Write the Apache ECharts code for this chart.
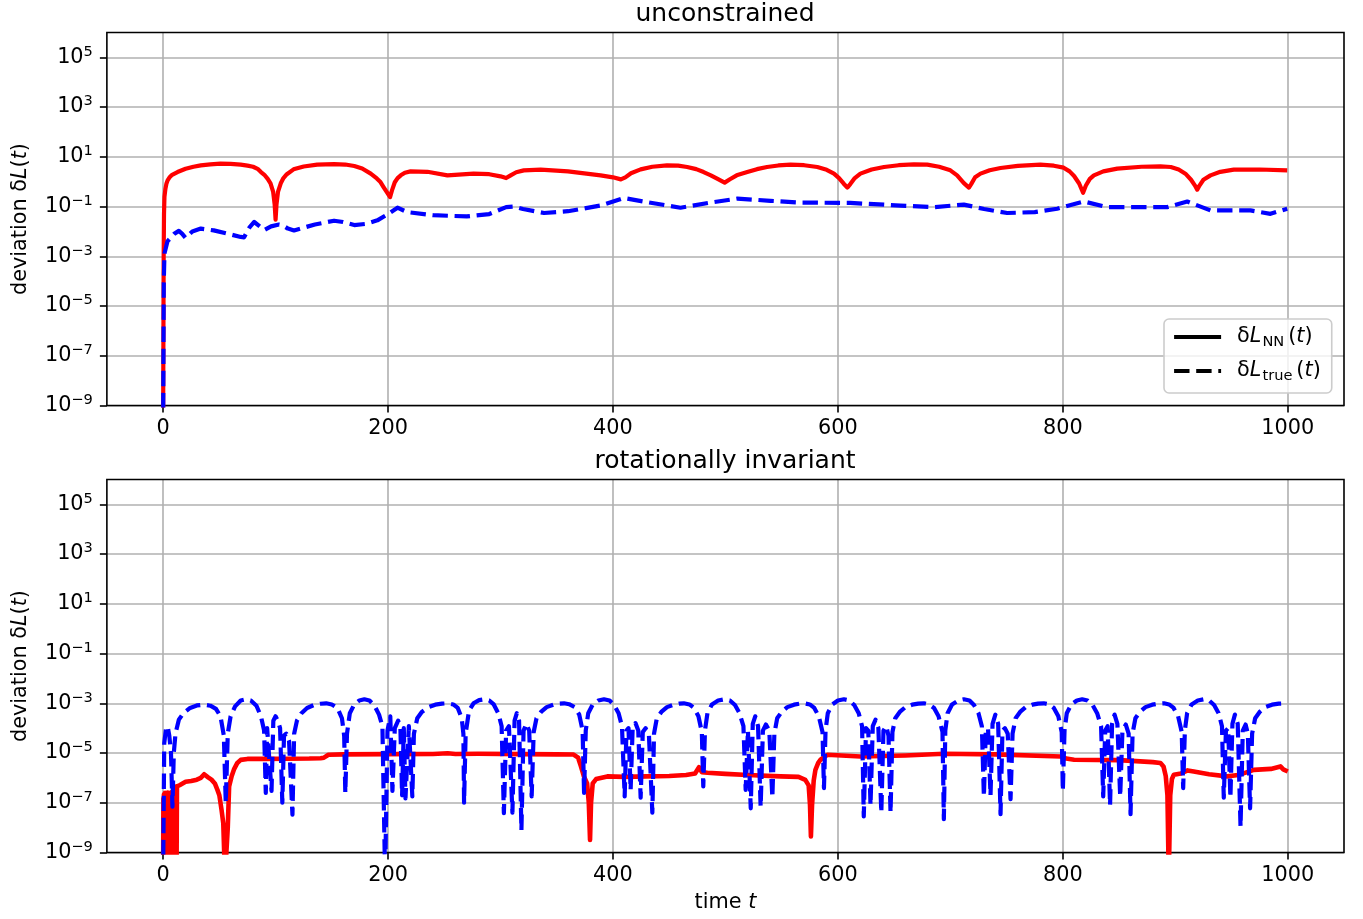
<!DOCTYPE html>
<html>
<head>
<meta charset="utf-8">
<script src="https://cdn.jsdelivr.net/npm/echarts@6/dist/echarts.min.js"></script>
<style>
  html, body { margin: 0; padding: 0; background: #fff; }
  #chart { width: 1363px; height: 919px; }
</style>
</head>
<body>
<div id="chart"></div>
<script>
// ---- data: [time, deviation] pairs ----
const nnUnconstrained = [
  [0,1e-10],[0.5,1e-3],[0.8,0.05],[1.2,0.25],[2,0.5],[3,0.85],[4,1.13],[6,1.55],[8,1.9],[12.8,2.44],
  [20,3.3],[27,4.0],[33.5,4.55],[42,5.0],[51,5.3],[60,5.25],[69,4.85],[75,4.45],[80,4.0],[84,3.3],
  [87,2.44],[90,1.9],[93,1.3],[95.5,0.85],[97.8,0.4],[99.2,0.12],[100,0.03],[100.8,0.12],[102.2,0.4],[104.6,0.86],
  [107,1.4],[110,2.0],[116,3.14],[125,4.1],[137,4.85],[152,5.13],[162,4.9],[170,4.27],[177,3.4],[184.6,2.11],
  [190,1.35],[193,1.0],[196,0.61],[199.5,0.35],[201.8,0.24],[203.5,0.45],[206,0.95],[208.5,1.4],[211.3,1.8],[215,2.3],
  [220,2.61],[235,2.5],[252.8,1.8],[276,2.11],[290,2.0],[300,1.64],[305,1.4],[309,1.8],[314,2.4],[320.7,2.86],
  [335.7,3.05],[360,2.6],[389,1.8],[400,1.5],[407,1.24],[411,1.5],[416,2.2],[424.6,3.14],[435,4.0],[448,4.55],
  [458,4.4],[466,3.9],[474,3.2],[480.6,2.44],[487,1.8],[493,1.3],[499.3,0.92],[504,1.25],[510,1.8],[519.4,2.44],
  [528,3.2],[537,3.9],[547,4.5],[557.9,4.85],[570,4.6],[581.7,3.9],[590,3.0],[596.5,2.11],[601,1.4],[605,0.85],
  [608.4,0.58],[611,0.8],[615,1.4],[620,2.11],[630,3.1],[641,3.9],[654,4.6],[667.6,5.0],[679.5,4.85],[690,4.0],
  [700,2.86],[706,1.8],[712,0.88],[716.5,0.58],[718.5,0.8],[722,1.5],[726.8,2.11],[735,2.9],[744.6,3.55],[760,4.3],
  [780,4.85],[792,4.4],[800.7,3.67],[806,2.6],[810,1.7],[814.5,0.85],[818,0.36],[820.5,0.7],[824,1.3],[827.6,1.8],
  [836,2.6],[848.4,3.35],[870,4.0],[886.8,4.15],[896,3.9],[903,3.1],[909,2.1],[914,1.2],[917.5,0.7],[919.5,0.48],
  [921.5,0.7],[925,1.2],[931.3,1.8],[940,2.5],[952,3.05],[975,3.1],[999.5,2.86]
];

const trueUnconstrained = [
  [0,1e-10],[0.6,1e-4],[1.2,1.3e-3],[3.9,4e-3],[9.8,8e-3],[14,1.05e-2],[17,8e-3],[20,5.5e-3],[26,1e-2],[33.5,1.3e-2],
  [45,1.1e-2],[58,8e-3],[69,6e-3],[72,5.8e-3],[77,1.5e-2],[81,2.4e-2],[86,1.6e-2],[90,1.15e-2],[96,1.6e-2],[103,1.9e-2],
  [106,1.8e-2],[111,1.3e-2],[116.4,1.1e-2],[135,1.9e-2],[152,2.7e-2],[160,2.4e-2],[170,1.8e-2],[180,2e-2],[190.5,2.8e-2],[200,5e-2],
  [208.4,9e-2],[217,6e-2],[240,4.5e-2],[270,4e-2],[290,5e-2],[305,9.5e-2],[312,1e-1],[320,8e-2],[338.7,5.5e-2],[360,6.5e-2],
  [389,1.1e-1],[409.8,2.2e-1],[430.6,1.5e-1],[460,9e-2],[485,1.4e-1],[510.6,2.1e-1],[540,1.7e-1],[566.8,1.45e-1],[611,1.4e-1],[655.7,1.1e-1],
  [685.5,9.5e-2],[712,1.2e-1],[730,8e-2],[750.5,5.5e-2],[775,6e-2],[795,8.2e-2],[818.7,1.6e-1],[839.4,9.5e-2],[865,9.5e-2],[892.8,9.5e-2],
  [910.6,1.6e-1],[931.3,7e-2],[966.8,7e-2],[984.6,5.1e-2],[999.5,8.2e-2]
];

// early burst of the rotationally invariant NN deviation: its upper envelope
// (the signal flickers between this envelope and far below the axis floor)
const nnRotInvBurst = [
  [0,2.2e-7],[1,2.5e-7],[2.5,2e-7],[4,2.6e-7],[5.5,2e-7],[7,2.4e-7],[8.5,3e-7],[10,3.5e-7],[11.5,4.5e-7],[12.3,4.5e-7]
];

const nnRotInv = [
  [0,1e-10],[0.25,1.5e-7],[0.5,2e-10],[0.75,2.2e-7],[1,1e-10],[1.25,1.8e-7],[1.5,5e-10],[1.75,2.5e-7],[2,1e-10],[2.25,2e-7],
  [2.5,3e-10],[2.75,1.6e-7],[3,1e-10],[3.25,1.2e-7],[3.5,4e-10],[3.75,1e-7],[4,1e-10],[4.25,1.5e-7],[4.5,2e-10],[4.75,2e-7],
  [5,1e-10],[5.25,2.5e-7],[5.5,3e-10],[5.75,1.8e-7],[6,1e-10],[6.25,2.2e-7],[6.5,2e-10],[6.75,1.4e-7],[7,1e-10],[7.25,2e-7],
  [7.5,4e-10],[7.75,2.6e-7],[8,1e-10],[8.25,2.2e-7],[8.5,3e-10],[8.75,3e-7],[9,1e-10],[9.25,2.5e-7],[9.5,2e-10],[9.75,3.2e-7],
  [10,1e-10],[10.25,3.5e-7],[10.5,3e-10],[10.75,3e-7],[11,1e-10],[11.25,4e-7],[11.5,2e-10],[11.75,4.5e-7],[12,5e-10],[12.3,4.5e-7],
  [12.8,5e-7],[15,5.2e-7],[20,7e-7],[25,7.5e-7],[30,8.5e-7],[33.5,1e-6],[36.5,1.4e-6],[38,1.6e-6],[40,1.05e-6],[43,8.5e-7],
  [46,6e-7],[48.3,3.3e-7],[50,2e-7],[52,5e-8],[53.5,1.5e-8],[55,1e-10],[56.5,1e-10],[57.5,1e-8],[58.7,4.5e-7],[61,1.2e-6],
  [63,2.2e-6],[66,4e-6],[69,5.3e-6],[75,5.8e-6],[90,5.8e-6],[110,5.9e-6],[130,6e-6],[140,6.2e-6],[143,6.5e-6],[147,8.5e-6],
  [160,8.8e-6],[200,9e-6],[240,9.2e-6],[253,9.8e-6],[260,9.2e-6],[280,9.3e-6],[320,9e-6],[350,8.8e-6],[365,8.7e-6],[369,6.5e-6],
  [371.5,2.9e-6],[374,1.2e-6],[377,6e-7],[378.5,1e-7],[379.6,3.2e-9],[380.5,1e-7],[382,6e-7],[385,9e-7],[395,1.15e-6],[410,1.1e-6],
  [430,1.15e-6],[450,1.2e-6],[465,1.3e-6],[473,1.5e-6],[476.5,2.7e-6],[479,1.7e-6],[484,1.6e-6],[500,1.45e-6],[520,1.3e-6],[549,1.15e-6],
  [565,1.1e-6],[571,8.3e-7],[574,5e-7],[575.2,8e-8],[576,4.4e-9],[577,8e-8],[578.5,8e-7],[580,2.1e-6],[582.5,4e-6],[584.6,5.4e-6],
  [590.6,8.5e-6],[620,7.3e-6],[660,8e-6],[694,9.3e-6],[740,8.8e-6],[798,7.3e-6],[803,6e-6],[810,5.4e-6],[850,5.2e-6],[880,4.3e-6],
  [886.8,4e-6],[889.5,2.9e-6],[891.5,1.2e-6],[893,2e-7],[894.2,1e-10],[895.5,2e-7],[897,9e-7],[898.7,1.35e-6],[905,1.5e-6],[911,2e-6],
  [916.4,1.8e-6],[930,1.4e-6],[946,1.15e-6],[956,1.3e-6],[969.8,2.1e-6],[985,2.3e-6],[993.5,2.9e-6],[996,2.2e-6],[1000,1.8e-6]
];

const trueRotInv = [
  [0,1e-10],[1,2.5e-5],[2.5,9e-5],[4,1.2e-4],[5.5,5e-5],[7,1e-5],[8.3,7e-8],[9.5,1e-5],[11,6e-5],[14,2.2e-4],
  [18,4e-4],[24,6.5e-4],[30,8.2e-4],[36,8.8e-4],[42,8e-4],[47,6e-4],[51,3e-4],[54,5e-5],[55.7,1e-7],[57.5,6e-5],
  [60,3e-4],[64,7.5e-4],[69,1.3e-3],[73.5,1.45e-3],[78,1.3e-3],[83,8e-4],[87,3e-4],[89.8,8e-5],
  [91.3,2.5e-7],[92.5,1e-4],[94,1.2e-4],[96.4,3e-7],[98,2e-4],[100,3e-4],[102,2e-4],[104,1e-4],[106,1e-7],[107.5,5e-5],
  [109.5,6e-5],[112,3e-5],[115,3.3e-8],[116.5,6e-5],
  [119,2e-4],[123,4e-4],[128,6.5e-4],[134,8.5e-4],[140,9.6e-4],[145,1e-3],[150,9e-4],[155,6.5e-4],[159,2.5e-4],[161,5e-5],
  [162,2.5e-7],[163.5,6e-5],
  [166,4e-4],[170,9e-4],[174.5,1.3e-3],[179,1.45e-3],[183.5,1.3e-3],[188,8e-4],[192,3.5e-4],[195,1.2e-4],
  [197.4,1e-10],[199.5,8e-5],[202,3e-4],[203.9,3e-7],[206,1e-4],[209,2e-4],[211,1e-4],[212.5,2e-7],[214,1e-4],[215.5,1.5e-7],
  [218.5,1.2e-4],[221.6,1.8e-7],[223,6e-5],
  [226,2.5e-4],[230,4.5e-4],[236,7e-4],[242,8.8e-4],[248,9.7e-4],[253,1e-3],[258,9e-4],[262,6.5e-4],[265.5,2.5e-4],[267,6e-5],
  [267.6,1e-7],[269,6e-5],
  [272,5e-4],[276,1e-3],[281,1.35e-3],[285.5,1.45e-3],[290,1.3e-3],[294,9e-4],[298,4e-4],[301,1.2e-4],
  [303,3.8e-8],[305,8e-5],[307.5,1.2e-4],[310.6,4e-8],[312.5,2e-4],[314.5,4e-4],[316.5,2e-4],[318.6,8e-9],[320.5,8e-5],[323,1.5e-4],
  [325.5,8e-5],[327.7,1.8e-7],[329.5,7e-5],
  [332,2.5e-4],[336,4.5e-4],[341,7e-4],[347,8.8e-4],[352,9.7e-4],[356.5,1e-3],[361,9.2e-4],[366,7e-4],[370,3.5e-4],[373,8e-5],
  [374.3,2.5e-7],[375.8,8e-5],
  [378,4e-4],[382,9e-4],[387,1.3e-3],[392,1.45e-3],[397,1.3e-3],[401,8.5e-4],[405,4e-4],[408,1.2e-4],
  [410.4,1.8e-7],[412,8e-5],[413.8,1e-4],[415.7,3.3e-7],[417.5,1e-4],[420,1.6e-4],[422.5,8e-5],[424.6,1.6e-7],[426.5,7e-5],[429,1e-4],
  [432,5e-5],[435,4e-8],[436.5,6e-5],
  [439,2.5e-4],[443,4.5e-4],[448,7e-4],[454,8.8e-4],[459,9.7e-4],[463,1e-3],[468,9e-4],[472,6.5e-4],[476,3e-4],[479,7e-5],
  [480.3,4.5e-7],[481.8,8e-5],
  [484,4e-4],[488,9e-4],[493.5,1.3e-3],[499,1.45e-3],[504,1.3e-3],[508.5,8.5e-4],[512.5,4e-4],[516,1.2e-4],
  [518,3.3e-7],[520,8e-5],[522.5,6e-8],[524.3,1.5e-4],[526.5,3e-4],[529,1.2e-4],[531.3,7e-8],[533.3,8e-5],[536,1.4e-4],[539,8e-5],
  [541.7,1.6e-7],[543.5,6e-5],
  [546,2.5e-4],[550,4.5e-4],[555,7e-4],[561,8.8e-4],[566,9.7e-4],[570,1e-3],[575,9e-4],[579,6.5e-4],[583,3e-4],[586.3,7e-5],
  [587.6,3.9e-7],[589,8e-5],
  [591,4e-4],[595,9e-4],[600,1.3e-3],[605.3,1.45e-3],[610,1.3e-3],[614.5,8.5e-4],[618.5,4e-4],[621.5,1.2e-4],
  [623,2.8e-8],[625,1e-4],[627,8e-5],[629,8e-8],[631,1.2e-4],[633.5,2.2e-4],[636,1e-4],[638.6,4e-8],[640.5,8e-5],[643,1.2e-4],
  [645,5e-5],[646.8,4e-8],[648.5,7e-5],
  [651,2.5e-4],[655,4.5e-4],[660,7e-4],[666,8.8e-4],[671.5,9.7e-4],[676.5,1e-3],[681,9e-4],[685.5,6.5e-4],[689.5,3e-4],[693,7e-5],
  [694.2,2.2e-8],[695.5,8e-5],
  [697.5,4e-4],[701.5,9e-4],[707,1.3e-3],[712,1.45e-3],[717,1.3e-3],[721,8.5e-4],[725,4e-4],[728,1.2e-4],
  [729.8,1.8e-7],[731.5,8e-5],[733.5,1e-4],[735.7,2e-7],[737.5,1.5e-4],[740,3.5e-4],[742.5,1.5e-4],[744.6,3.5e-8],[746.3,8e-5],[748.5,1e-4],
  [751,6e-5],[753.5,1.4e-7],[755.3,6e-5],
  [758,2.5e-4],[762,4.5e-4],[767,7e-4],[773,8.8e-4],[778,9.7e-4],[783,1e-3],[788,9e-4],[792,6.5e-4],[796,3e-4],[799,7e-5],
  [800,3e-7],[801.5,8e-5],
  [803.5,4e-4],[807.5,9e-4],[812.5,1.3e-3],[817.2,1.45e-3],[822,1.3e-3],[826.5,8.5e-4],[830.5,4e-4],[834,1.2e-4],
  [835.9,1.8e-7],[837.7,8e-5],[839.8,1.2e-4],[842,8e-8],[843.8,1.5e-4],[846,3.5e-4],[848.5,1.5e-4],[851,1.8e-7],[853,8e-5],[856,1.4e-4],
  [858.5,6e-5],[860.2,3.5e-8],[862,6e-5],
  [864.5,2.5e-4],[868.5,4.5e-4],[873.5,7e-4],[879.5,8.8e-4],[885,9.7e-4],[890,1e-3],[894.5,9e-4],[898.5,6.5e-4],[902.5,3e-4],[905.7,7e-5],
  [907,3.9e-7],[908.5,8e-5],
  [910.5,4e-4],[914.5,9e-4],[920,1.3e-3],[925.3,1.45e-3],[930,1.3e-3],[934.5,8.5e-4],[938.5,4e-4],[941.5,1.2e-4],
  [943.1,1.6e-7],[945,8e-5],[947,1e-4],[949,1.6e-7],[950.8,1.5e-4],[953,3.5e-4],[955.5,1.5e-4],[958,1.1e-8],[960,8e-5],[962.5,1.4e-4],
  [964.5,6e-5],[966.5,6e-8],[968.3,6e-5],
  [971,2.5e-4],[975,4.5e-4],[980,7e-4],[986,8.8e-4],[992,9.7e-4],[1000,1e-3]
];

// tick positions: decades (as exponents) and times
const decadeTicks = [-9, -7, -5, -3, -1, 1, 3, 5];
const timeTicks = [0, 200, 400, 600, 800, 1000];
const panelTitles = ['unconstrained', 'rotationally invariant'];

// ---- styling ----
const FONT = 'DejaVu Sans';
const FS = 20.8;
const SUP = 14.6;
const LW = 4.2;
const DASH = [15.4, 6.7];
const GRID_COLOR = '#b0b0b0';
const RED = '#ff0000';
const BLUE = '#0000ff';

// values are plotted on a decade (log10) value axis
const toDecades = pts => pts.map(p => [p[0], Math.log10(p[1])]);

function decadeLabel(v) {
  const e = Math.round(v);
  if (Math.abs(v - e) > 1e-6 || decadeTicks.indexOf(e) < 0) return '';
  const s = e < 0 ? '\u2212' + (-e) : String(e);
  return '{b|10}{s|' + s + '}';
}

function xAxisFor(idx, withName) {
  const ax = {
    type: 'value', gridIndex: idx, min: -50, max: 1050, splitNumber: 5,
    axisLine: { show: false, onZero: false },
    axisTick: { show: true, length: 7, customValues: timeTicks, lineStyle: { color: '#000', width: 1.6 } },
    axisLabel: {
      customValues: timeTicks, margin: 10, color: '#000', fontFamily: FONT, fontSize: FS, lineHeight: 26,
      formatter: v => (timeTicks.indexOf(v) >= 0 ? String(v) : '')
    },
    splitLine: { show: true, lineStyle: { color: GRID_COLOR, width: 1.6 } }
  };
  if (withName) {
    Object.assign(ax, {
      name: 'time {i|t}', nameLocation: 'middle', nameGap: 37,
      nameTextStyle: {
        color: '#000', fontFamily: FONT, fontSize: FS, lineHeight: 26,
        rich: { i: { fontStyle: 'italic', fontFamily: FONT, fontSize: FS, color: '#000' } }
      }
    });
  }
  return ax;
}

function yAxisFor(idx) {
  return {
    type: 'value', gridIndex: idx, min: -9, max: 6, interval: 2,
    name: 'deviation δ{i|L}({i|t})', nameLocation: 'middle', nameRotate: 90, nameGap: 72,
    nameTextStyle: {
      color: '#000', fontFamily: FONT, fontSize: FS, lineHeight: 26,
      rich: { i: { fontStyle: 'italic', fontFamily: FONT, fontSize: FS, color: '#000' } }
    },
    axisLine: { show: false, onZero: false },
    axisTick: { show: true, length: 7, customValues: decadeTicks, lineStyle: { color: '#000', width: 1.6 } },
    axisLabel: {
      customValues: decadeTicks, margin: 14, formatter: decadeLabel,
      rich: {
        b: { fontFamily: FONT, fontSize: FS, lineHeight: 26, color: '#000' },
        s: { fontFamily: FONT, fontSize: SUP, lineHeight: 14, verticalAlign: 'top', color: '#000' }
      }
    },
    splitLine: { show: true, lineStyle: { color: GRID_COLOR, width: 1.6 } }
  };
}

function lineSeries(name, idx, pts, color, dashed, width) {
  return {
    name, type: 'line', xAxisIndex: idx, yAxisIndex: idx,
    data: toDecades(pts), symbol: 'none', showSymbol: false, clip: true,
    animation: false, silent: true, sampling: null,
    itemStyle: { color },
    lineStyle: { color, width: width || LW, type: dashed ? DASH : 'solid', cap: 'butt', join: 'round' }
  };
}

// burst region: filled down to the axis floor
const burst = lineSeries('nn', 1, nnRotInvBurst, RED, false);
burst.areaStyle = { color: RED, opacity: 1, origin: 'start' };

const chart = echarts.init(document.getElementById('chart'), null, { renderer: 'canvas' });

chart.setOption({
  backgroundColor: '#fff',
  animation: false,
  title: panelTitles.map((txt, i) => ({
    text: txt, left: 725, top: i === 0 ? 2 : 449, textAlign: 'center', padding: 0,
    textStyle: { fontFamily: FONT, fontSize: 25, fontWeight: 'normal', color: '#000', lineHeight: 25 }
  })),
  grid: [
    { left: 106, right: 19, top: 32.5, height: 373, show: true, borderColor: '#000', borderWidth: 1.6, backgroundColor: 'transparent', z: 3 },
    { left: 106, right: 19, top: 479.5, height: 373, show: true, borderColor: '#000', borderWidth: 1.6, backgroundColor: 'transparent', z: 3 }
  ],
  xAxis: [xAxisFor(0, false), xAxisFor(1, true)],
  yAxis: [yAxisFor(0), yAxisFor(1)],
  legend: {
    left: 1164, top: 319, orient: 'vertical', align: 'left',
    itemWidth: 47, itemHeight: 14, itemGap: 8, padding: [5, 11, 9, 8],
    backgroundColor: 'rgba(255,255,255,0.8)', borderColor: '#cccccc', borderWidth: 1.6, borderRadius: 5,
    selectedMode: false,
    data: [
      { name: 'nn', itemStyle: { color: '#000', opacity: 0, borderWidth: 0 }, lineStyle: { color: '#000', width: LW, type: 'solid', opacity: 1 } },
      { name: 'true', itemStyle: { color: '#000', opacity: 0, borderWidth: 0 }, lineStyle: { color: '#000', width: LW, type: DASH, opacity: 1 } }
    ],
    formatter: name => name === 'nn'
      ? '{g|}δ{i|L}{sub|NN}({i|t})'
      : '{g|}δ{i|L}{sub|true}({i|t})',
    textStyle: {
      fontFamily: FONT, fontSize: FS, color: '#000', lineHeight: 26,
      rich: {
        g: { width: 11 },
        i: { fontStyle: 'italic', fontFamily: FONT, fontSize: FS, color: '#000' },
        sub: { fontFamily: FONT, fontSize: SUP, lineHeight: 14, verticalAlign: 'bottom', padding: [0, 4, 0, 1], color: '#000' }
      }
    }
  },
  series: [
    lineSeries('nn', 0, nnUnconstrained, RED, false),
    lineSeries('true', 0, trueUnconstrained, BLUE, true),
    burst,
    lineSeries('nn', 1, nnRotInv, RED, false, 4.6),
    lineSeries('true', 1, trueRotInv, BLUE, true)
  ]
});
</script>
</body>
</html>
